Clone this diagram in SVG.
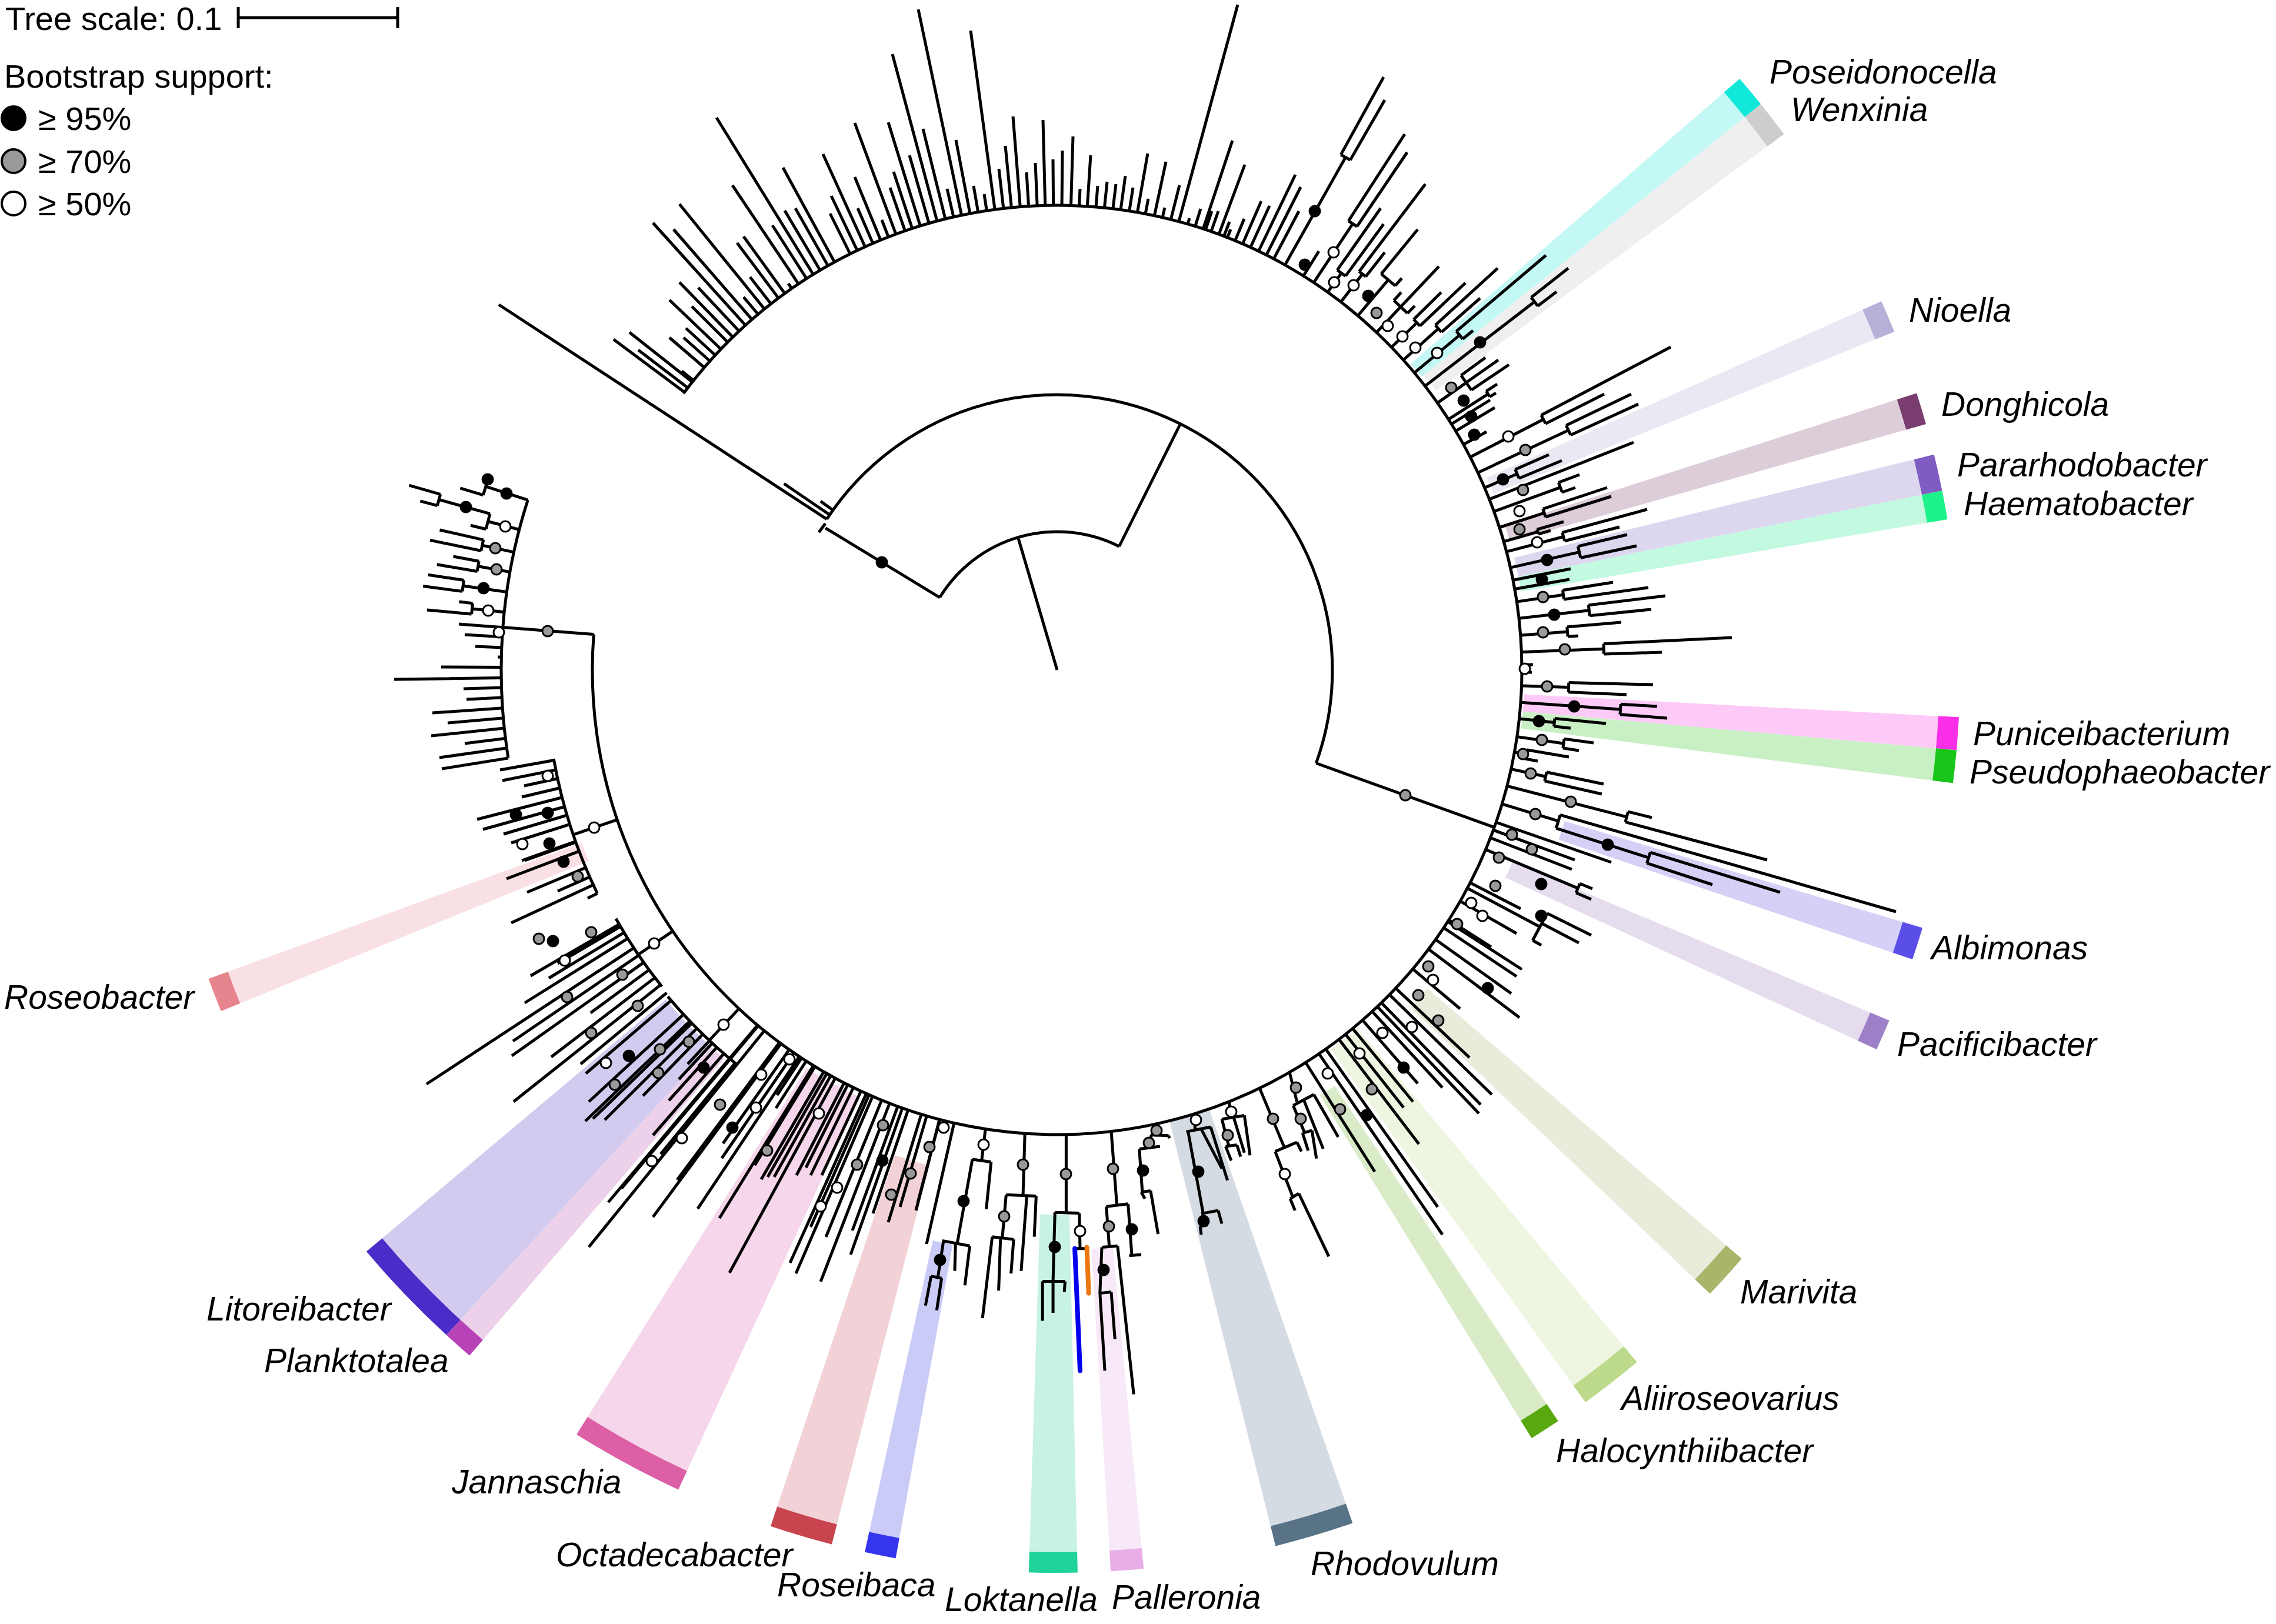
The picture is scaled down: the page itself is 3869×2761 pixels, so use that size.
<svg xmlns="http://www.w3.org/2000/svg" width="3869" height="2761" viewBox="0 0 3869 2761">
<style>
.t{fill:none;stroke:#000;stroke-width:5}
.lab{font-family:"Liberation Sans",Arial,sans-serif;font-style:italic;font-size:57px;fill:#000}
.leg{font-family:"Liberation Sans",Arial,sans-serif;font-size:56px;fill:#000}
.b{fill:#000;stroke:#000;stroke-width:3}
.g{fill:#999;stroke:#000;stroke-width:3}
.w{fill:#fff;stroke:#000;stroke-width:3}
.bd{fill:none}
</style>
<defs>
<clipPath id="c790"><path clip-rule="evenodd" d="M0 0H3869V2761H0Z M2587 1139A790 790 0 1 0 1007 1139A790 790 0 1 0 2587 1139Z"/></clipPath>
<clipPath id="c810"><path clip-rule="evenodd" d="M0 0H3869V2761H0Z M2607 1139A810 810 0 1 0 987 1139A810 810 0 1 0 2607 1139Z"/></clipPath>
<clipPath id="c830"><path clip-rule="evenodd" d="M0 0H3869V2761H0Z M2627 1139A830 830 0 1 0 967 1139A830 830 0 1 0 2627 1139Z"/></clipPath>
<clipPath id="c850"><path clip-rule="evenodd" d="M0 0H3869V2761H0Z M2647 1139A850 850 0 1 0 947 1139A850 850 0 1 0 2647 1139Z"/></clipPath>
<clipPath id="c861"><path clip-rule="evenodd" d="M0 0H3869V2761H0Z M2658 1139A861 861 0 1 0 936 1139A861 861 0 1 0 2658 1139Z"/></clipPath>
<clipPath id="c864"><path clip-rule="evenodd" d="M0 0H3869V2761H0Z M2661 1139A864 864 0 1 0 933 1139A864 864 0 1 0 2661 1139Z"/></clipPath>
<clipPath id="c869"><path clip-rule="evenodd" d="M0 0H3869V2761H0Z M2666 1139A869 869 0 1 0 928 1139A869 869 0 1 0 2666 1139Z"/></clipPath>
<clipPath id="c870"><path clip-rule="evenodd" d="M0 0H3869V2761H0Z M2667 1139A870 870 0 1 0 927 1139A870 870 0 1 0 2667 1139Z"/></clipPath>
<clipPath id="c890"><path clip-rule="evenodd" d="M0 0H3869V2761H0Z M2687 1139A890 890 0 1 0 907 1139A890 890 0 1 0 2687 1139Z"/></clipPath>
<clipPath id="c910"><path clip-rule="evenodd" d="M0 0H3869V2761H0Z M2707 1139A910 910 0 1 0 887 1139A910 910 0 1 0 2707 1139Z"/></clipPath>
<clipPath id="c930"><path clip-rule="evenodd" d="M0 0H3869V2761H0Z M2727 1139A930 930 0 1 0 867 1139A930 930 0 1 0 2727 1139Z"/></clipPath>
<clipPath id="c945"><path clip-rule="evenodd" d="M0 0H3869V2761H0Z M2742 1139A945 945 0 1 0 852 1139A945 945 0 1 0 2742 1139Z"/></clipPath>
<clipPath id="c960"><path clip-rule="evenodd" d="M0 0H3869V2761H0Z M2757 1139A960 960 0 1 0 837 1139A960 960 0 1 0 2757 1139Z"/></clipPath>
<clipPath id="c1000"><path clip-rule="evenodd" d="M0 0H3869V2761H0Z M2797 1139A1000 1000 0 1 0 797 1139A1000 1000 0 1 0 2797 1139Z"/></clipPath>
<clipPath id="c1020"><path clip-rule="evenodd" d="M0 0H3869V2761H0Z M2817 1139A1020 1020 0 1 0 777 1139A1020 1020 0 1 0 2817 1139Z"/></clipPath>
<clipPath id="c1025"><path clip-rule="evenodd" d="M0 0H3869V2761H0Z M2822 1139A1025 1025 0 1 0 772 1139A1025 1025 0 1 0 2822 1139Z"/></clipPath>
<clipPath id="c1055"><path clip-rule="evenodd" d="M0 0H3869V2761H0Z M2852 1139A1055 1055 0 1 0 742 1139A1055 1055 0 1 0 2852 1139Z"/></clipPath>
<clipPath id="c1090"><path clip-rule="evenodd" d="M0 0H3869V2761H0Z M2887 1139A1090 1090 0 1 0 707 1139A1090 1090 0 1 0 2887 1139Z"/></clipPath>
<circle id="dB" r="9" class="b"/>
<circle id="dG" r="9" class="g"/>
<circle id="dW" r="9" class="w"/>
</defs>
<rect width="3869" height="2761" fill="#fff"/>

<!-- clade highlight strips -->
<g id="clade-Poseidonocella"><circle class="bd" cx="1797" cy="1139" r="1165" stroke="#c4f8f4" stroke-width="740" stroke-dasharray="42.70 100000" transform="rotate(319.1 1797 1139)"/><circle class="bd" cx="1797" cy="1139" r="1517.5" stroke="#10e8da" stroke-width="35" stroke-dasharray="55.62 100000" transform="rotate(319.1 1797 1139)"/><text class="lab" x="3008" y="142">Poseidonocella</text></g>
<g id="clade-Wenxinia"><circle class="bd" cx="1797" cy="1139" r="1167.5" stroke="#efefef" stroke-width="735" stroke-dasharray="48.90 100000" transform="rotate(321.2 1797 1139)"/><circle class="bd" cx="1797" cy="1139" r="1517.5" stroke="#cdcdcd" stroke-width="35" stroke-dasharray="63.56 100000" transform="rotate(321.2 1797 1139)"/><text class="lab" x="3044" y="206">Wenxinia</text></g>
<g id="clade-Nioella"><circle class="bd" cx="1797" cy="1139" r="1167.5" stroke="#ebe8f4" stroke-width="735" stroke-dasharray="42.79 100000" transform="rotate(335.9 1797 1139)"/><circle class="bd" cx="1797" cy="1139" r="1517.5" stroke="#b7b0d9" stroke-width="35" stroke-dasharray="55.62 100000" transform="rotate(335.9 1797 1139)"/><text class="lab" x="3245" y="547">Nioella</text></g>
<g id="clade-Donghicola"><circle class="bd" cx="1797" cy="1139" r="1167.5" stroke="#dccdd9" stroke-width="735" stroke-dasharray="41.77 100000" transform="rotate(342.15 1797 1139)"/><circle class="bd" cx="1797" cy="1139" r="1517.5" stroke="#7a3d6f" stroke-width="35" stroke-dasharray="54.29 100000" transform="rotate(342.15 1797 1139)"/><text class="lab" x="3300" y="707">Donghicola</text></g>
<g id="clade-Pararhodobacter"><circle class="bd" cx="1797" cy="1139" r="1167.5" stroke="#ddd6ef" stroke-width="735" stroke-dasharray="47.88 100000" transform="rotate(346.2 1797 1139)"/><circle class="bd" cx="1797" cy="1139" r="1517.5" stroke="#7f5cc1" stroke-width="35" stroke-dasharray="62.24 100000" transform="rotate(346.2 1797 1139)"/><text class="lab" x="3327" y="810">Pararhodobacter</text></g>
<g id="clade-Haematobacter"><circle class="bd" cx="1797" cy="1139" r="1167.5" stroke="#c3f8e1" stroke-width="735" stroke-dasharray="37.70 100000" transform="rotate(348.55 1797 1139)"/><circle class="bd" cx="1797" cy="1139" r="1517.5" stroke="#1df28b" stroke-width="35" stroke-dasharray="49.0 100000" transform="rotate(348.55 1797 1139)"/><text class="lab" x="3338" y="876">Haematobacter</text></g>
<g id="clade-Puniceibacterium"><circle class="bd" cx="1797" cy="1139" r="1165" stroke="#fdc9f6" stroke-width="740" stroke-dasharray="42.70 100000" transform="rotate(3.0 1797 1139)"/><circle class="bd" cx="1797" cy="1139" r="1517.5" stroke="#fb2fe8" stroke-width="35" stroke-dasharray="55.62 100000" transform="rotate(3.0 1797 1139)"/><text class="lab" x="3354" y="1267">Puniceibacterium</text></g>
<g id="clade-Pseudophaeobacter"><circle class="bd" cx="1797" cy="1139" r="1165" stroke="#c8f0c4" stroke-width="740" stroke-dasharray="42.70 100000" transform="rotate(5.1 1797 1139)"/><circle class="bd" cx="1797" cy="1139" r="1517.5" stroke="#19c519" stroke-width="35" stroke-dasharray="55.62 100000" transform="rotate(5.1 1797 1139)"/><text class="lab" x="3348" y="1332">Pseudophaeobacter</text></g>
<g id="clade-Albimonas"><circle class="bd" cx="1797" cy="1139" r="1217.5" stroke="#d5d1f6" stroke-width="635" stroke-dasharray="44.62 100000" transform="rotate(16.6 1797 1139)"/><circle class="bd" cx="1797" cy="1139" r="1517.5" stroke="#5b4ee8" stroke-width="35" stroke-dasharray="55.62 100000" transform="rotate(16.6 1797 1139)"/><text class="lab" x="3283" y="1631">Albimonas</text></g>
<g id="clade-Pacificibacter"><circle class="bd" cx="1797" cy="1139" r="1187.5" stroke="#e5ddee" stroke-width="695" stroke-dasharray="41.45 100000" transform="rotate(22.85 1797 1139)"/><circle class="bd" cx="1797" cy="1139" r="1517.5" stroke="#9d80c8" stroke-width="35" stroke-dasharray="52.97 100000" transform="rotate(22.85 1797 1139)"/><text class="lab" x="3225" y="1795">Pacificibacter</text></g>
<g id="clade-Marivita"><circle class="bd" cx="1797" cy="1139" r="1182.5" stroke="#e9ecdb" stroke-width="705" stroke-dasharray="61.91 100000" transform="rotate(40.7 1797 1139)"/><circle class="bd" cx="1797" cy="1139" r="1517.5" stroke="#aab56c" stroke-width="35" stroke-dasharray="79.46 100000" transform="rotate(40.7 1797 1139)"/><text class="lab" x="2958" y="2216">Marivita</text></g>
<g id="clade-Aliiroseovarius"><circle class="bd" cx="1797" cy="1139" r="1165" stroke="#eef6e1" stroke-width="740" stroke-dasharray="84.38 100000" transform="rotate(50.05 1797 1139)"/><circle class="bd" cx="1797" cy="1139" r="1517.5" stroke="#bdd98b" stroke-width="35" stroke-dasharray="109.91 100000" transform="rotate(50.05 1797 1139)"/><text class="lab" x="2756" y="2397">Aliiroseovarius</text></g>
<g id="clade-Halocynthiibacter"><circle class="bd" cx="1797" cy="1139" r="1192.5" stroke="#d9ebc7" stroke-width="685" stroke-dasharray="41.63 100000" transform="rotate(56.3 1797 1139)"/><circle class="bd" cx="1797" cy="1139" r="1517.5" stroke="#5aa810" stroke-width="35" stroke-dasharray="52.97 100000" transform="rotate(56.3 1797 1139)"/><text class="lab" x="2645" y="2486">Halocynthiibacter</text></g>
<g id="clade-Rhodovulum"><circle class="bd" cx="1797" cy="1139" r="1162.5" stroke="#d4dbe2" stroke-width="745" stroke-dasharray="103.47 100000" transform="rotate(70.9 1797 1139)"/><circle class="bd" cx="1797" cy="1139" r="1517.5" stroke="#587386" stroke-width="35" stroke-dasharray="135.07 100000" transform="rotate(70.9 1797 1139)"/><text class="lab" x="2228" y="2678">Rhodovulum</text></g>
<g id="clade-Palleronia"><circle class="bd" cx="1797" cy="1139" r="1260.5" stroke="#f8e9f8" stroke-width="549" stroke-dasharray="46.20 100000" transform="rotate(84.5 1797 1139)"/><circle class="bd" cx="1797" cy="1139" r="1517.5" stroke="#e8aee8" stroke-width="35" stroke-dasharray="55.62 100000" transform="rotate(84.5 1797 1139)"/><text class="lab" x="1890" y="2735">Palleronia</text></g>
<g id="clade-Loktanella"><circle class="bd" cx="1797" cy="1139" r="1230.5" stroke="#c8f2e3" stroke-width="609" stroke-dasharray="66.57 100000" transform="rotate(88.7 1797 1139)"/><circle class="bd" cx="1797" cy="1139" r="1517.5" stroke="#1fd39b" stroke-width="35" stroke-dasharray="82.10 100000" transform="rotate(88.7 1797 1139)"/><text class="lab" x="1606" y="2739">Loktanella</text></g>
<g id="clade-Roseibaca"><circle class="bd" cx="1797" cy="1139" r="1264" stroke="#cbcbf8" stroke-width="542" stroke-dasharray="44.12 100000" transform="rotate(100.3 1797 1139)"/><circle class="bd" cx="1797" cy="1139" r="1517.5" stroke="#3535f0" stroke-width="35" stroke-dasharray="52.97 100000" transform="rotate(100.3 1797 1139)"/><text class="lab" x="1321" y="2714">Roseibaca</text></g>
<g id="clade-Octadecabacter"><circle class="bd" cx="1797" cy="1139" r="1202.5" stroke="#f2d2d7" stroke-width="665" stroke-dasharray="85.0 100000" transform="rotate(104.45 1797 1139)"/><circle class="bd" cx="1797" cy="1139" r="1517.5" stroke="#c8444f" stroke-width="35" stroke-dasharray="107.26 100000" transform="rotate(104.45 1797 1139)"/><text class="lab" x="945" y="2663">Octadecabacter</text></g>
<g id="clade-Jannaschia"><circle class="bd" cx="1797" cy="1139" r="1167.5" stroke="#f5d6eb" stroke-width="735" stroke-dasharray="149.76 100000" transform="rotate(114.8 1797 1139)"/><circle class="bd" cx="1797" cy="1139" r="1517.5" stroke="#dd5fa6" stroke-width="35" stroke-dasharray="194.66 100000" transform="rotate(114.8 1797 1139)"/><text class="lab" x="768" y="2539">Jannaschia</text></g>
<g id="clade-Planktotalea"><circle class="bd" cx="1797" cy="1139" r="1202.5" stroke="#edd1ea" stroke-width="665" stroke-dasharray="40.93 100000" transform="rotate(130.6 1797 1139)"/><circle class="bd" cx="1797" cy="1139" r="1517.5" stroke="#b843b8" stroke-width="35" stroke-dasharray="51.65 100000" transform="rotate(130.6 1797 1139)"/><text class="lab" x="449" y="2333">Planktotalea</text></g>
<g id="clade-Litoreibacter"><circle class="bd" cx="1797" cy="1139" r="1202.5" stroke="#d2cbef" stroke-width="665" stroke-dasharray="154.26 100000" transform="rotate(132.55 1797 1139)"/><circle class="bd" cx="1797" cy="1139" r="1517.5" stroke="#4c2cc8" stroke-width="35" stroke-dasharray="194.66 100000" transform="rotate(132.55 1797 1139)"/><text class="lab" x="351" y="2245">Litoreibacter</text></g>
<g id="clade-Roseobacter"><circle class="bd" cx="1797" cy="1139" r="1197.5" stroke="#f9e0e4" stroke-width="675" stroke-dasharray="45.98 100000" transform="rotate(157.8 1797 1139)"/><circle class="bd" cx="1797" cy="1139" r="1517.5" stroke="#e7858f" stroke-width="35" stroke-dasharray="58.27 100000" transform="rotate(157.8 1797 1139)"/><text class="lab" x="7" y="1715">Roseobacter</text></g>

<!-- tree branches -->
<g id="connectors">
<path class="t" d="M1797 1139L1731 915 M1597.5 1015.8A234 234 0 0 1 1902.4 929 M1597.5 1015.8L1403.1 897.6 M1392 905L1403 890 M1902.4 929L2006.6 720.5 M1405.4 882.7A468 468 0 0 1 2237.3 1297.5 M1405.4 882.7L848 518 M1410.4 875.3L1332.7 822.3 M1416 867.2L1394.8 852.1 M2237.3 1297.5L2540.3 1406.6 M1161.9 669.1A790 790 0 1 1 1009.3 1078.4 M1009.3 1078.4L854.7 1066.5 M897.3 850.1A945 945 0 0 0 863.9 1288.5 M1049.1 1393.6L974.3 1419.1 M941.2 1289.9A869 869 0 0 0 1015.2 1518.6 M1143.6 1583.1L1084.9 1623 M1046.9 1561.7A861 861 0 0 0 1125.1 1677.3 M1256.2 1714.9L1205.6 1768.9 M1135.2 1694.4A864 864 0 0 0 1253.3 1810.4"/>
<path class="t" d="M2279.3 263L2295.3 272M2292.3 375.6L2306.7 385.2M2273.3 459.2L2287.3 469.3M2310.4 461.6L2321.6 470.2M2348 465.7L2371.7 485.9M2369.5 510.7L2392.6 532.6M2403.1 543.1L2413.8 554.2M2439.9 552.8L2450.4 564.6M2475.7 563.2L2486.5 576.3M2602.9 505.6L2614.1 520.2M2483.7 638.1L2501.3 663.1M2526.5 665L2532.6 674.5M2619.9 705.8L2627.4 720.2M2662.3 723.2L2670 739.6M2575.7 798.1L2582.2 813.2M2649.4 820.3L2655.5 836.9M2622.8 865.2L2627.3 879M2612.8 900.2L2615 907.9M2655.8 905.3L2659.6 919.7M2682.4 928.8L2686.9 948.4M2656.4 1003.5L2658.7 1019M2700.3 1028.9L2702.4 1046.7M2663.9 1065.8L2665.1 1082.2M2726 1094.5L2726.6 1111.9M2666.8 1160.5L2666.2 1176.7M2755.2 1197.2L2754 1214.7M2643 1221.5L2641.6 1234.8M2659 1256.2L2656.9 1271.8M2595.5 1274.8L2592.8 1290M2629.1 1312.8L2625.8 1327.8M2767.5 1380L2763 1397.5M2652.2 1385.5L2645.3 1408.2M2645.3 1408.2L2802.5 1458.1M2805.4 1449.1L2799.6 1467.5M2685.6 1502.3L2679.1 1517.9M2629.9 1552.7L2605.4 1598.7
M832.9 873.3L826.1 899.6M832.9 873.3L746.8 849.6M748.7 840.4L743.4 859.5M821.7 917.8L817.8 936.4M814.2 954.2L811.1 971.4M788.5 986.4L785.8 1005.3M803.5 1025.7L801.6 1044.1M821.3 841.7L828.5 818.5"/>
<g clip-path="url(#c790)"><path class="t" d="M1797 1139L1043 577M1797 1139L1070 565M1797 1139L1085 595M1797 1139L1138 574M1797 1139L1159 631M1797 1139L1110 379M1797 1139L1145 390M1797 1139L1155 347M1797 1139L1138 510M1797 1139L1155 480M1797 1139L1162 574M1797 1139L1166 558M1797 1139L1176 521M1797 1139L1187 489M1797 1139L1218 200M1797 1139L1245 315M1797 1139L1253 413M1797 1139L1264 402M1797 1139L1275 471M1797 1139L1264 505M1797 1139L1313 383M1797 1139L1331 285M1797 1139L1334 358M1797 1139L1352 354M1797 1139L1340 482M1797 1139L1399 262M1797 1139L1411 363M1797 1139L1413 333M1797 1139L1453 209M1797 1139L1453 301M1797 1139L1458 354M1797 1139L1499 374M1797 1139L1510 208M1797 1139L1513 319M1797 1139L1519 292M1797 1139L1517 92M1797 1139L1546 264M1797 1139L1561 16M1797 1139L1569 219M1797 1139L1610 321M1797 1139L1625 238M1797 1139L1650 52M1797 1139L1655 316M1797 1139L1673 330M1797 1139L1698 287M1797 1139L1709 248M1797 1139L1722 198M1797 1139L1745 293M1797 1139L1760 277M1797 1139L1773 204M1797 1139L1790 271M1797 1139L1806 256M1797 1139L1824 232M1797 1139L1836 321M1797 1139L1854 264M1797 1139L1866 316M1797 1139L1882 309M1797 1139L1897 313M1797 1139L1913 299M1797 1139L1926 319M1797 1139L1952 338M1797 1139L1951 261M1797 1139L1980 353M1797 1139L1982 275M1797 1139L2005 315M1797 1139L2022 371M1797 1139L2041 355M1797 1139L2060 359M1797 1139L2071 359M1797 1139L2090 377M1797 1139L2092 390M1797 1139L2095 239M1797 1139L2104 8M1797 1139L2116 280M1797 1139L2115 372M1797 1139L2144 342M1797 1139L2158 350M1797 1139L2202 297M1797 1139L2211 318M1797 1139L2208 359
M1797 1139L2242 427M1797 1139L2446 453M1797 1139L2533 680M1797 1139L2541 693M1797 1139L2527 734M1797 1139L2777 752M1797 1139L2670 967M1797 1139L2668 985M1797 1139L2606 1130M1797 1139L2604 1143M1797 1139L2739 1466M1797 1139L2677 1462M1797 1139L2672 1478M1797 1139L2585 1545M1797 1139L2578 1587M1797 1139L2535 1610M1797 1139L2587 1648M1797 1139L2578 1660M1797 1139L2569 1689M1797 1139L2583 1730M1797 1139L2482 1715M1797 1139L2498 1798M1797 1139L2517 1878M1797 1139L2536 1861M1797 1139L2514 1893M1797 1139L2452 1849M1797 1139L2410 1842M1797 1139L2402 1873M1797 1139L2452 2099M1797 1139L2444 2052M1797 1139L2412 1945M1797 1139L2386 1883M1797 1139L2337 1992
M1797 1139L2287.3 267.5M1797 1139L2299.5 380.4M1797 1139L2280.3 464.3M1797 1139L2316 465.9M1797 1139L2359.9 475.8M1797 1139L2381 521.7M1797 1139L2408.5 548.7M1797 1139L2445.2 558.7M1797 1139L2481.1 569.8M1797 1139L2608.5 512.9M1797 1139L2492.5 650.6M1797 1139L2529.6 669.8M1797 1139L2623.7 713M1797 1139L2666.2 731.4M1797 1139L2579 805.7M1797 1139L2652.5 828.6M1797 1139L2625 872.1M1797 1139L2613.9 904.1M1797 1139L2657.7 912.5M1797 1139L2684.7 938.6M1797 1139L2657.6 1011.3M1797 1139L2701.4 1037.8M1797 1139L2664.5 1074M1797 1139L2726.3 1103.2M1797 1139L2666.5 1168.6M1797 1139L2754.6 1206M1797 1139L2642.3 1228.2M1797 1139L2658 1264M1797 1139L2594.2 1282.4M1797 1139L2627.5 1320.3M1797 1139L2765.3 1388.8M1797 1139L2649.2 1395.8M1797 1139L2682.4 1510.1M1797 1139L2617.7 1575.7
M1797 1139L1575 2115M1797 1139L1560 2045M1797 1139L1557 2058M1797 1139L1530 2052M1797 1139L1510 2078M1797 1139L1484 2063M1797 1139L1449 2092M1797 1139L1446 2133M1797 1139L1404 2103M1797 1139L1378 2086M1797 1139L1395 2179M1797 1139L1353 2165M1797 1139L1343 2147M1797 1139L1397 1998M1797 1139L1378 1998M1797 1139L1354 1998M1797 1139L1316 2001M1797 1139L1305 2001M1797 1139L1283 1981M1797 1139L1294 2005M1797 1139L1370 1985M1797 1139L1319 1884M1797 1139L1321 1862M1797 1139L1229 1944M1797 1139L1227 1969M1797 1139L1240 2164M1797 1139L1223 2071M1797 1139L1186 2055M1797 1139L1151 2006M1797 1139L1110 2069M1797 1139L1057 2020M1797 1139L1034 2044M1797 1139L1001 2120"/></g>
<g clip-path="url(#c810)"><path class="t" d="M1797 1139L2667 1287M1797 1139L2614 1294"/></g>
<g clip-path="url(#c830)"><path class="t" d="M1797 1139L2347 354M1797 1139L2352 381"/></g>
<g clip-path="url(#c850)"><path class="t" d="M1797 1139L2423 313M1797 1139L2354 429M1797 1139L2382 497M1797 1139L2405 520M1797 1139L2450 497M1797 1139L2491 481M1797 1139L2525 608M1797 1139L2547 612M1797 1139L2565 620M1797 1139L2633 773M1797 1139L2655 783M1797 1139L2658 887M1797 1139L2636 902M1797 1139L2730 1230M1797 1139L2670 1238M1797 1139L2726 1333M1797 1139L2723 1350"/></g>
<g clip-path="url(#c870)"><path class="t" d="M1797 1139L2410 390M1797 1139L2383 473M1797 1139L2516 507M1797 1139L2546 456M1797 1139L2545 653M1797 1139L2543 668M1797 1139L2732 829M1797 1139L2739 844M1797 1139L2742 990M1797 1139L2802 999M1797 1139L2756 1058M1797 1139L2683 1081M1797 1139L2810 1164M1797 1139L2765 1181M1797 1139L2709 1263M1797 1139L2684 1276"/></g>
<g clip-path="url(#c890)"><path class="t" d="M1797 1139L2628 434M1797 1139L2504 562M1797 1139L2800 866M1797 1139L2753 896M1797 1139L3223 1550"/></g>
<g clip-path="url(#c910)"><path class="t" d="M1797 1139L2388 228M1797 1139L2392 259M1797 1139L2685 807M1797 1139L2678 829M1797 1139L2782 928M1797 1139L2766 909M1797 1139L2831 1013M1797 1139L2807 1036"/></g>
<g clip-path="url(#c930)"><path class="t" d="M1797 1139L2840 590M1797 1139L2727 670M1797 1139L2944 1084M1797 1139L2825 1109M1797 1139L2705 1590M1797 1139L2684 1603M1797 1139L2620 1607"/></g>
<g clip-path="url(#c960)"><path class="t" d="M1797 1139L2773 670M1797 1139L2785 687M1797 1139L2817 1201M1797 1139L2834 1221M1797 1139L2707 1511M1797 1139L2705 1529"/></g>
<g clip-path="url(#c1000)"><path class="t" d="M1797 1139L2352 131M1797 1139L2354 170M1797 1139L2808 1390M1797 1139L3004 1462M1797 1139L800.1 893.2M1797 1139L747.5 901M1797 1139L731 918.4M1797 1139L770.5 946M1797 1139L742.8 959.8M1797 1139L780.4 1023.1M1797 1139L725.8 1036.9"/></g>
<g clip-path="url(#c1020)"><path class="t" d="M1797 1139L782.3 829.8M1797 1139L727.8 977.2M1797 1139L719.1 996.5"/></g>
<g clip-path="url(#c1025)"><path class="t" d="M1797 1139L2666 456M1797 1139L2646 496"/></g>
<g clip-path="url(#c1055)"><path class="t" d="M1797 1139L2911 1504M1797 1139L3026 1517"/></g>
<g clip-path="url(#c1090)"><path class="t" d="M1797 1139L695.4 825.2M1797 1139L714.3 851.8"/></g>
<g clip-path="url(#c864)"><path class="t" d="M1797 1139L996 1825M1797 1139L1001 1873M1797 1139L995 1906M1797 1139L1028 1904M1797 1139L1093 1863M1797 1139L1110 1930M1797 1139L1137 1871M1797 1139L1169 1809M1797 1139L1008 1902M1797 1139L1154 1835M1797 1139L1123 1962"/></g>
<g clip-path="url(#c861)"><path class="t" d="M1797 1139L902 1659M1797 1139L933 1663M1797 1139L892 1705M1797 1139L872 1770M1797 1139L870 1795M1797 1139L725 1843M1797 1139L1004 1722M1797 1139L937 1797M1797 1139L873 1873M1797 1139L987 1809M1797 1139L948 1638"/></g>
<g clip-path="url(#c869)"><path class="t" d="M1797 1139L850 1309M1797 1139L854 1327M1797 1139L891 1336M1797 1139L887 1355M1797 1139L811 1393M1797 1139L821 1410M1797 1139L856 1418M1797 1139L869 1433M1797 1139L887 1463M1797 1139L861 1494M1797 1139L892 1463M1797 1139L896 1517M1797 1139L948 1515M1797 1139L999 1527M1797 1139L869 1569"/></g>
<g clip-path="url(#c945)"><path class="t" d="M1797 1139L780 1061M1797 1139L790 1079M1797 1139L808 1099M1797 1139L846 1117M1797 1139L750 1134M1797 1139L670 1155M1797 1139L788 1171M1797 1139L793 1189M1797 1139L735 1212M1797 1139L761 1229M1797 1139L733 1251M1797 1139L790 1264M1797 1139L747 1288M1797 1139L751 1307M1797 1139L825.9 827.2M1797 1139L829.5 886.5M1797 1139L819.8 927.1M1797 1139L812.7 962.8M1797 1139L787.2 995.9M1797 1139L802.6 1034.9"/></g>
<g transform="translate(1350 1750) scale(0.6378 0.4464)">
<path class="t" vector-effect="non-scaling-stroke" d="M615 392L610 632M565 630L645 635M645 635L640 790M620 635L605 920M565 630L555 790M528 790L585 800M528 790L502 1100M550 793L545 995M585 800L578 930
M510 378L500 497M475 495L525 505M475 495L435 812M395 805L468 825M398 806L383 945M365 940L393 948M365 940L350 1052M393 948L380 1070M430 818L428 920M468 825L455 975M525 505L512 685
M725 398L725 697M695 697L760 700M695 697L690 960M662 960L722 960M662 960L662 1110M690 960L690 1080M722 960L720 1000M760 700L762 835M748 835L780 835
M845 387L860 668M832 675L890 665M832 675L840 830M820 830L862 825M820 830L815 1005M815 1005L845 1000M815 1005L828 1300M845 1000L855 1180M862 825L905 1390M890 665L900 862M893 862L925 858
M966 359L962 402M950 402L998 405M998 405L1000 415M952 402L945 456M920 456L975 446M920 456L928 620M925 620L950 615M925 620L935 645M950 615L970 780
M1070 319L1068 385M1045 390L1110 372M1050 390L1090 700M1085 702L1130 690M1130 690L1140 740M1090 702L1090 745M1082 750L1102 745M1082 750L1085 782M1085 380L1140 530M1110 372L1155 575
M1160 273L1160 340M1140 342L1200 328M1200 328L1215 480M1140 342L1158 442M1150 446L1180 440M1150 446L1165 500M1180 440L1190 485M1172 338L1200 470
M1240 222L1305 445M1282 465L1340 430M1282 465L1330 642M1322 645L1345 625M1322 645L1335 690M1345 625L1425 865M1340 430L1352 465
M1320 162L1340 275M1330 290L1385 248M1330 290L1360 392M1355 395L1380 385M1355 395L1370 462M1380 385L1392 492M1385 248L1450 410M1358 268L1410 455"/>
<path fill="none" stroke="#0000ee" stroke-width="8" stroke-linecap="round" vector-effect="non-scaling-stroke" d="M748 835L762 1300"/>
<path fill="none" stroke="#ee7711" stroke-width="8" stroke-linecap="round" vector-effect="non-scaling-stroke" d="M780 830L785 1005"/>
</g>
</g>

<!-- bootstrap support markers -->
<g id="support-markers">
<use href="#dB" x="1499" y="956"/><use href="#dB" x="2235" y="359"/><use href="#dB" x="2218" y="450"/><use href="#dB" x="2326" y="503"/><use href="#dB" x="2516" y="582"/><use href="#dB" x="2488" y="681"/><use href="#dB" x="2501" y="708"/><use href="#dB" x="2506" y="739"/><use href="#dB" x="2555" y="815"/><use href="#dB" x="2630" y="952"/><use href="#dB" x="2621" y="985"/><use href="#dB" x="2642" y="1045"/><use href="#dB" x="2676" y="1201"/><use href="#dB" x="2616" y="1226"/><use href="#dB" x="2733" y="1436"/><use href="#dB" x="2620" y="1503"/><use href="#dB" x="2620" y="1557"/><use href="#dB" x="2529" y="1680"/><use href="#dB" x="2386" y="1815"/><use href="#dB" x="2323" y="1896"/><use href="#dB" x="2046" y="2076"/><use href="#dB" x="2037" y="1992"/><use href="#dB" x="1924" y="2090"/><use href="#dB" x="1943" y="1990"/><use href="#dB" x="1793" y="2120"/><use href="#dB" x="1638" y="2042"/><use href="#dB" x="1598" y="2142"/><use href="#dB" x="1500" y="1973"/><use href="#dB" x="1245" y="1917"/><use href="#dB" x="1196" y="1815"/><use href="#dB" x="1069" y="1795"/><use href="#dB" x="940" y="1600"/><use href="#dB" x="931" y="1382"/><use href="#dB" x="877" y="1385"/><use href="#dB" x="934" y="1434"/><use href="#dB" x="958" y="1465"/><use href="#dB" x="861" y="839"/><use href="#dB" x="792" y="862"/><use href="#dB" x="822" y="1000"/><use href="#dB" x="829" y="815"/><use href="#dB" x="1876" y="2159"/>
<use href="#dG" x="2389" y="1352"/><use href="#dG" x="2340" y="532"/><use href="#dG" x="2467" y="659"/><use href="#dG" x="2593" y="765"/><use href="#dG" x="2589" y="833"/><use href="#dG" x="2583" y="900"/><use href="#dG" x="2623" y="1015"/><use href="#dG" x="2623" y="1075"/><use href="#dG" x="2660" y="1104"/><use href="#dG" x="2630" y="1167"/><use href="#dG" x="2621" y="1258"/><use href="#dG" x="2589" y="1282"/><use href="#dG" x="2602" y="1315"/><use href="#dG" x="2670" y="1363"/><use href="#dG" x="2610" y="1384"/><use href="#dG" x="2570" y="1419"/><use href="#dG" x="2604" y="1444"/><use href="#dG" x="2548" y="1458"/><use href="#dG" x="2542" y="1506"/><use href="#dG" x="2477" y="1571"/><use href="#dG" x="2428" y="1643"/><use href="#dG" x="2411" y="1692"/><use href="#dG" x="2445" y="1735"/><use href="#dG" x="2332" y="1852"/><use href="#dG" x="2278" y="1886"/><use href="#dG" x="2211" y="1902"/><use href="#dG" x="2203" y="1849"/><use href="#dG" x="2164" y="1902"/><use href="#dG" x="2087" y="1930"/><use href="#dG" x="1953" y="1943"/><use href="#dG" x="1966" y="1922"/><use href="#dG" x="1892" y="1987"/><use href="#dG" x="1885" y="2085"/><use href="#dG" x="1812" y="1996"/><use href="#dG" x="1739" y="1980"/><use href="#dG" x="1707" y="2068"/><use href="#dG" x="1580" y="1950"/><use href="#dG" x="1548" y="1995"/><use href="#dG" x="1515" y="2031"/><use href="#dG" x="1501" y="1913"/><use href="#dG" x="1457" y="1980"/><use href="#dG" x="1224" y="1878"/><use href="#dG" x="1304" y="1956"/><use href="#dG" x="1171" y="1771"/><use href="#dG" x="1122" y="1784"/><use href="#dG" x="1045" y="1844"/><use href="#dG" x="1119" y="1824"/><use href="#dG" x="1005" y="1585"/><use href="#dG" x="916" y="1596"/><use href="#dG" x="1058" y="1657"/><use href="#dG" x="964" y="1695"/><use href="#dG" x="1084" y="1710"/><use href="#dG" x="1005" y="1756"/><use href="#dG" x="982" y="1490"/><use href="#dG" x="842" y="932"/><use href="#dG" x="844" y="968"/><use href="#dG" x="931" y="1073"/>
<use href="#dW" x="2267" y="429"/><use href="#dW" x="2268" y="480"/><use href="#dW" x="2301" y="485"/><use href="#dW" x="2359" y="554"/><use href="#dW" x="2384" y="572"/><use href="#dW" x="2406" y="591"/><use href="#dW" x="2443" y="600"/><use href="#dW" x="2564" y="742"/><use href="#dW" x="2583" y="869"/><use href="#dW" x="2613" y="922"/><use href="#dW" x="2592" y="1137"/><use href="#dW" x="2501" y="1535"/><use href="#dW" x="2520" y="1557"/><use href="#dW" x="2436" y="1666"/><use href="#dW" x="2400" y="1746"/><use href="#dW" x="2350" y="1756"/><use href="#dW" x="2311" y="1791"/><use href="#dW" x="2257" y="1825"/><use href="#dW" x="2184" y="1996"/><use href="#dW" x="2093" y="1890"/><use href="#dW" x="2033" y="1904"/><use href="#dW" x="1836" y="2093"/><use href="#dW" x="1672" y="1946"/><use href="#dW" x="1604" y="1917"/><use href="#dW" x="1423" y="2019"/><use href="#dW" x="1395" y="2051"/><use href="#dW" x="1392" y="1893"/><use href="#dW" x="1342" y="1801"/><use href="#dW" x="1294" y="1827"/><use href="#dW" x="1285" y="1883"/><use href="#dW" x="1159" y="1935"/><use href="#dW" x="1108" y="1974"/><use href="#dW" x="1230" y="1742"/><use href="#dW" x="1030" y="1807"/><use href="#dW" x="960" y="1633"/><use href="#dW" x="1112" y="1604"/><use href="#dW" x="931" y="1319"/><use href="#dW" x="888" y="1435"/><use href="#dW" x="1010" y="1407"/><use href="#dW" x="859" y="895"/><use href="#dW" x="830" y="1038"/><use href="#dW" x="848" y="1075"/>
</g>

<!-- legend -->
<g id="legend">
<text class="leg" x="9" y="51">Tree scale: 0.1</text>
<path class="t" d="M405 30H676M405 12V48M676 12V48"/>
<text class="leg" x="7" y="149">Bootstrap support:</text>
<circle cx="23" cy="201" r="20" fill="#000" stroke="#000" stroke-width="4"/>
<text class="leg" x="65" y="221">≥ 95%</text>
<circle cx="23" cy="274" r="20" fill="#999" stroke="#000" stroke-width="4"/>
<text class="leg" x="65" y="294">≥ 70%</text>
<circle cx="23" cy="346" r="20" fill="#fff" stroke="#000" stroke-width="4"/>
<text class="leg" x="65" y="366">≥ 50%</text>
</g>
</svg>
